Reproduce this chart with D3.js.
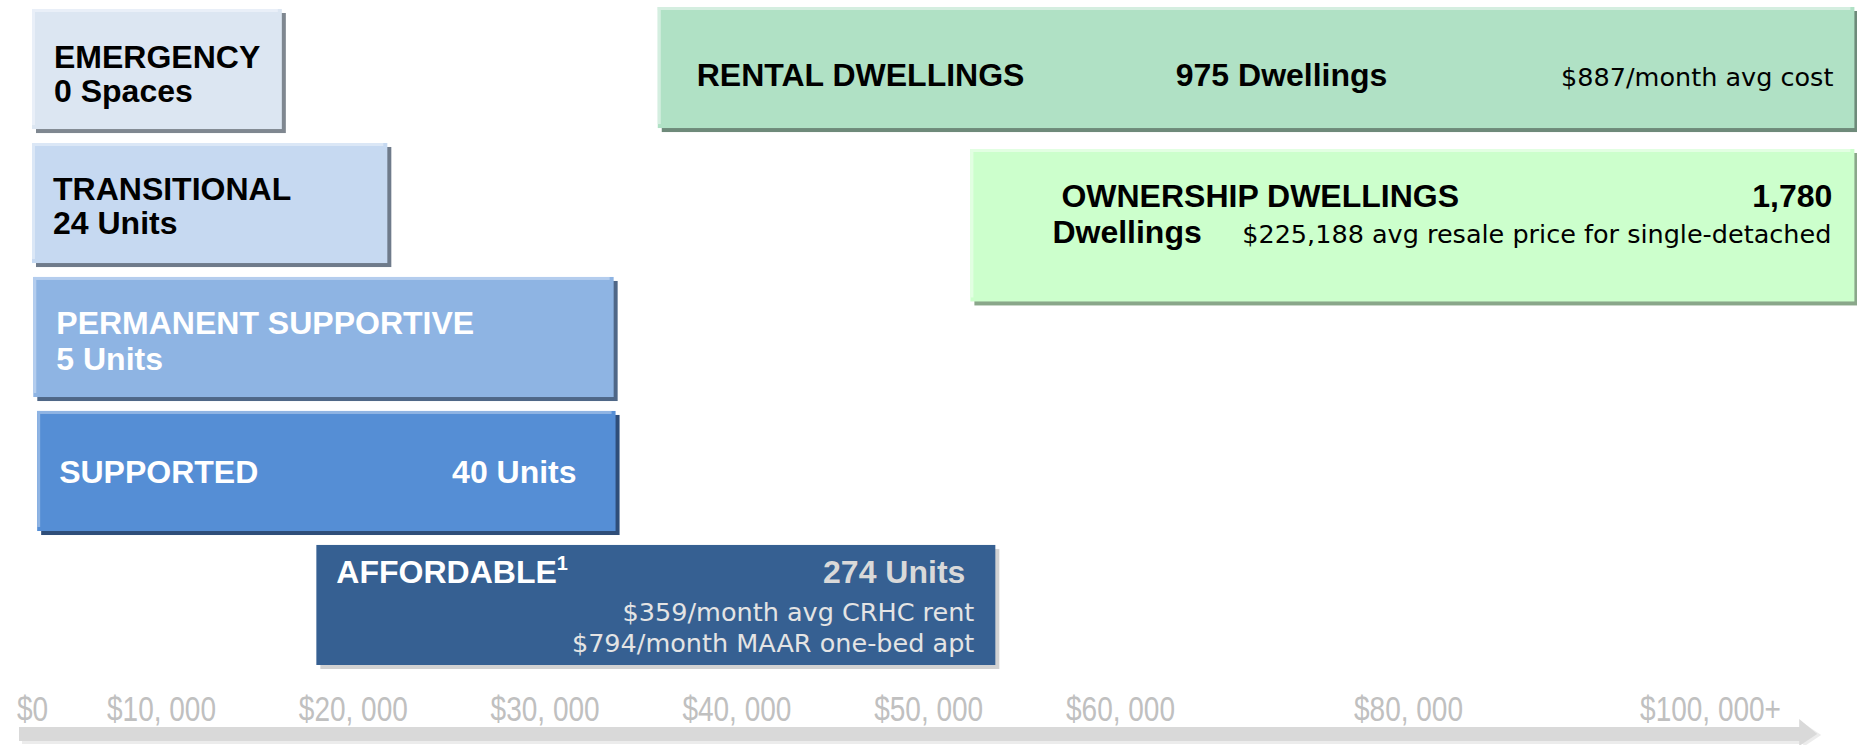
<!DOCTYPE html>
<html>
<head>
<meta charset="utf-8">
<script src="https://cdn.jsdelivr.net/npm/d3@7"></script>
<style>
  html, body { margin: 0; padding: 0; background: #fff; }
  svg { display: block; }
  .bold { font-family: "Liberation Sans", Arial, sans-serif; font-weight: bold; font-size: 32px; }
  .note { font-family: "DejaVu Sans", sans-serif; font-size: 25.5px; }
  .tick text { font-family: "Liberation Sans", Arial, sans-serif; font-size: 35px; fill: #c0c0c0; }
</style>
</head>
<body>
<svg id="chart" width="1857" height="745"></svg>
<script>
// housing continuum: income range each housing type serves
const categories = ["EMERGENCY", "TRANSITIONAL", "PERMANENT SUPPORTIVE", "SUPPORTED", "AFFORDABLE", "RENTAL DWELLINGS", "OWNERSHIP DWELLINGS"];
const incomeLow  = [0, 0, 100, 400, 18100, 35900, 52200];
const incomeHigh = [16300, 21800, 33600, 33700, 53500, 109500, 109500];
const rowIndex   = [0, 1, 2, 3, 4, 0, 1];
const counts     = [0, 24, 5, 40, 274, 975, 1780];
const countUnits = ["Spaces", "Units", "Units", "Units", "Units", "Dwellings", "Dwellings"];
const affordableNotes = ["$359/month avg CRHC rent", "$794/month MAAR one-bed apt"];
const rentalNote = "$887/month avg cost";
const ownershipNote = "$225,188 avg resale price for single-detached";

const tickValues = [0, 10000, 20000, 30000, 40000, 50000, 60000, 80000, 100000];
const tickLabels = ["$0", "$10, 000", "$20, 000", "$30, 000", "$40, 000", "$50, 000", "$60, 000", "$80, 000", "$100, 000+"];

const svg = d3.select("#chart");

// the income axis is stretched below $60k, so piecewise
const x = d3.scaleLinear()
    .domain([0, 10000, 60000, 80000, 100000, 110000])
    .range([32, 161, 1120, 1408, 1710, 1862]);

const y = d3.scaleBand()
    .domain(d3.range(5))
    .range([9, 665])
    .paddingInner(0.104);

const fmt = d3.format(",");

const look = {
    "EMERGENCY":            {fill: "#dce6f2", light: "#e9eff8", shadow: "#7f8790", text: "#000"},
    "TRANSITIONAL":         {fill: "#c6d9f1", light: "#dbe7f6", shadow: "#6f7b8b", text: "#000"},
    "PERMANENT SUPPORTIVE": {fill: "#8eb4e3", light: "#b4cdee", shadow: "#4f6787", text: "#fff"},
    "SUPPORTED":            {fill: "#558ed5", light: "#8fb4e3", shadow: "#2f4e79", text: "#fff"},
    "AFFORDABLE":           {fill: "#366092", light: null,      shadow: "#d2d2d2", text: "#fff"},
    "RENTAL DWELLINGS":     {fill: "#b0e1c5", light: "#d4eee0", shadow: "#6e8a7a", text: "#000"},
    "OWNERSHIP DWELLINGS":  {fill: "#ccffcc", light: "#e2ffe2", shadow: "#8aa78a", text: "#000"}
};

const boxes = categories.map((name, i) => {
    let y0 = y(rowIndex[i]), h = y.bandwidth();
    if (name === "RENTAL DWELLINGS") { y0 -= 2; h += 1; }
    if (name === "OWNERSHIP DWELLINGS") { y0 += 6; h = h * 1.27; }
    return {name, i, x0: x(incomeLow[i]), x1: x(incomeHigh[i]), y0, h};
});

const g = svg.append("g").selectAll("g")
    .data(boxes)
    .join("g");

g.append("rect")
    .attr("x", d => d.x0 + 4)
    .attr("y", d => d.y0 + 4)
    .attr("width", d => d.x1 - d.x0)
    .attr("height", d => d.h)
    .attr("fill", d => look[d.name].shadow);

g.append("rect")
    .attr("x", d => d.x0)
    .attr("y", d => d.y0)
    .attr("width", d => d.x1 - d.x0)
    .attr("height", d => d.h)
    .attr("fill", d => look[d.name].fill);

// lighter bevel on top and left
g.filter(d => look[d.name].light).append("rect")
    .attr("x", d => d.x0)
    .attr("y", d => d.y0)
    .attr("width", d => d.x1 - d.x0 - 4)
    .attr("height", 3)
    .attr("fill", d => look[d.name].light);
g.filter(d => look[d.name].light).append("rect")
    .attr("x", d => d.x0)
    .attr("y", d => d.y0)
    .attr("width", 3)
    .attr("height", d => d.h - 4)
    .attr("fill", d => look[d.name].light);

// text for each box, placed relative to the box (side l = from left, r = from right)
function labelsFor(d) {
    const n = counts[d.i] + " " + countUnits[d.i];
    switch (d.name) {
        case "EMERGENCY":
            return [{t: d.name, s: "l", dx: 22, dy: 59}, {t: n, s: "l", dx: 22, dy: 93}];
        case "TRANSITIONAL":
            return [{t: d.name, s: "l", dx: 21, dy: 57}, {t: n, s: "l", dx: 21, dy: 91}];
        case "PERMANENT SUPPORTIVE":
            return [{t: d.name, s: "l", dx: 23, dy: 57}, {t: n, s: "l", dx: 23, dy: 93}];
        case "SUPPORTED":
            return [{t: d.name, s: "l", dx: 22, dy: 72}, {t: n, s: "r", dx: -39, dy: 72}];
        case "AFFORDABLE":
            return [{t: d.name, s: "l", dx: 20, dy: 38, sup: "1"},
                    {t: n, s: "r", dx: -30, dy: 38, color: "#d9d9d9"},
                    {t: affordableNotes[0], s: "r", dx: -21, dy: 76, note: true, color: "#e4e4e4"},
                    {t: affordableNotes[1], s: "r", dx: -21, dy: 107, note: true, color: "#e4e4e4"}];
        case "RENTAL DWELLINGS":
            return [{t: d.name, s: "l", dx: 39, dy: 79}, {t: n, s: "l", dx: 518, dy: 79},
                    {t: rentalNote, s: "r", dx: -21, dy: 79, note: true}];
        case "OWNERSHIP DWELLINGS":
            return [{t: d.name, s: "l", dx: 91, dy: 58},
                    {t: fmt(counts[d.i]), s: "r", dx: -22, dy: 58},
                    {t: countUnits[d.i], s: "l", dx: 82, dy: 94},
                    {t: ownershipNote, s: "r", dx: -23, dy: 94, note: true}];
    }
    return [];
}

g.each(function(d) {
    const box = d3.select(this);
    labelsFor(d).forEach(l => {
        const txt = box.append("text")
            .attr("class", l.note ? "note" : "bold")
            .attr("x", l.s === "l" ? d.x0 + l.dx : d.x1 + l.dx)
            .attr("y", d.y0 + l.dy)
            .attr("text-anchor", l.s === "l" ? "start" : "end")
            .attr("fill", l.color || look[d.name].text)
            .text(l.t);
        if (l.sup) {
            txt.append("tspan")
                .attr("dy", -13)
                .attr("font-size", 20)
                .text(l.sup);
        }
    });
});

// income arrow along the bottom
const ay = 727, ah = 14;
const ax0 = x(0) - 13, ax1 = x(106000);
svg.append("rect")
    .attr("x", ax0 + 3).attr("y", ay + 3)
    .attr("width", ax1 - ax0).attr("height", ah)
    .attr("fill", "#ececec");
svg.append("rect")
    .attr("x", ax0).attr("y", ay)
    .attr("width", ax1 - ax0).attr("height", ah)
    .attr("fill", "#d9d9d9");
svg.append("path")
    .attr("d", `M${ax1 + 2},${ay - 4} L${ax1 + 20},${ay + ah / 2 + 1} L${ax1 + 2},${ay + ah + 6} Z`)
    .attr("fill", "#ececec");
svg.append("path")
    .attr("d", `M${ax1 - 2},${ay - 8} L${ax1 + 16},${ay + ah / 2} L${ax1 - 2},${ay + ah + 5} Z`)
    .attr("fill", "#d9d9d9");

// tick labels (narrow font imitated with a horizontal squeeze)
const axis = d3.axisBottom(x)
    .tickValues(tickValues)
    .tickFormat((v, i) => tickLabels[i])
    .tickSize(0);

const axisG = svg.append("g")
    .attr("transform", "translate(0,721)")
    .call(axis);
axisG.select(".domain").remove();
axisG.attr("font-family", null).attr("font-size", null);
axisG.selectAll("text")
    .attr("y", 0)
    .attr("dy", 0)
    .attr("transform", "scale(0.8,1)");
</script>
</body>
</html>
